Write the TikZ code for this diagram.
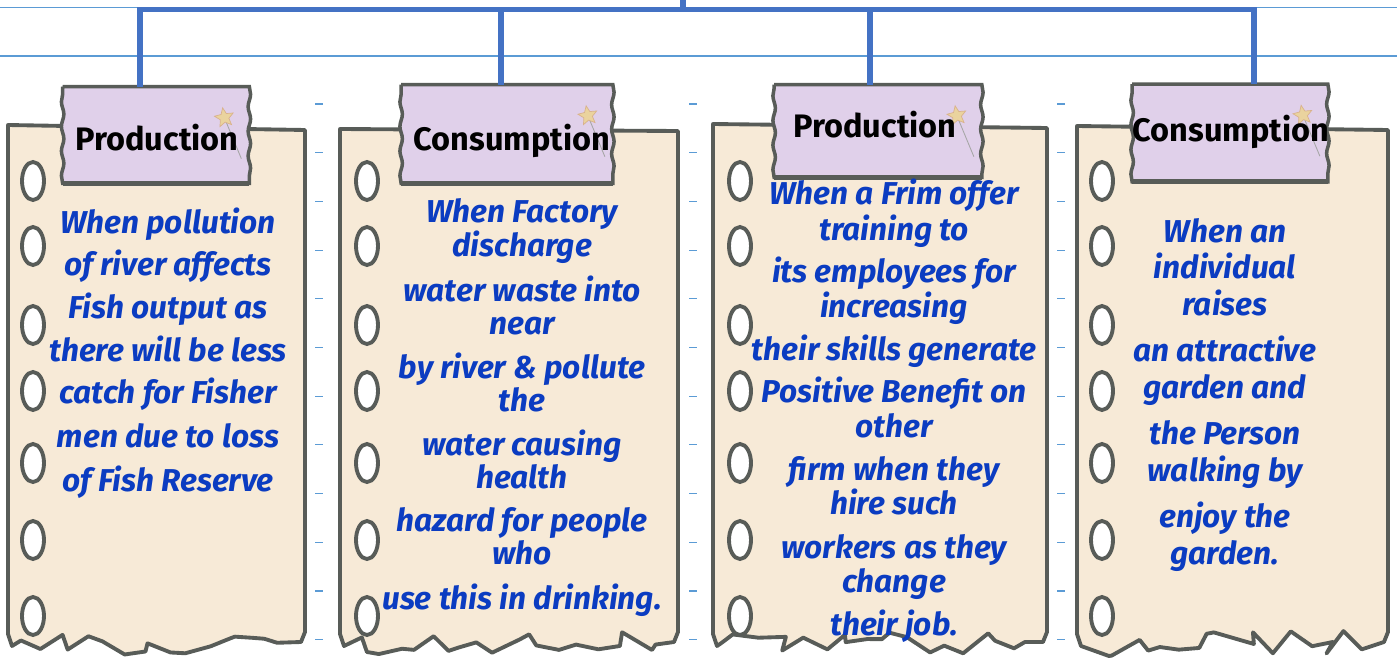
\documentclass[tikz,border=0pt]{standalone}
\usepackage{fontspec}
\setmainfont{Fira Sans}
\usetikzlibrary{shapes.geometric,decorations.pathmorphing,calc,positioning}
\definecolor{npBus}{HTML}{4472C4}
\definecolor{npRule}{HTML}{5B9BD5}
\definecolor{npInk}{HTML}{0B3CC1}
\definecolor{npEdge}{HTML}{585C58}
\definecolor{npPaper}{HTML}{F7EAD7}
\definecolor{npTab}{HTML}{E0D0EA}
\definecolor{npStar}{HTML}{EAD39E}
\tikzset{
  paper/.style={draw=npEdge, line width=2.2pt, fill=npPaper, line join=round},
  tabbox/.style={fill=npTab, inner sep=0pt},
  tabedge/.style={draw=npEdge, line width=2pt, decoration={snake, amplitude=0.7pt, segment length=14pt}},
  hole/.style={ellipse, draw=npEdge, line width=2.2pt, fill=white, inner sep=0pt, minimum width=0.44cm, minimum height=0.76cm},
  ttl/.style={anchor=base, font=\fontsize{18.5}{22}\selectfont\bfseries, text=black},
  txt/.style={anchor=base, font=\fontsize{18}{22}\selectfont\bfseries\itshape, text=npInk},
  bus/.style={draw=npBus, line width=2.9pt},
  rulel/.style={draw=npRule, line width=0.6pt},
  wand/.style={draw=gray!70, line width=0.5pt},
  spark/.style={star, star points=5, star point ratio=2.2, fill=npStar, draw=brown!60, line width=0.4pt, minimum size=0.4cm, inner sep=0pt},
}

\begin{document}
\begin{tikzpicture}[x=0.02cm, y=-0.02cm]
    \useasboundingbox (0,0) rectangle (1397,666);
    % page rules and margin ticks
    \draw[rulel] (0,7.3) -- (1397,7.3);
    \draw[rulel] (0,56) -- (1397,56);
    \foreach \tx in {315,689,1057}
        \foreach \k in {0,...,11}
            \draw[rulel] (\tx,104+48.7*\k) -- ++(8,0);

    % paper sheets with torn bottom edge and punched holes
    \pgfmathsetseed{11}
    \foreach \l/\r/\tl/\tr/\hx in {8/305/125/130/33, 340/678/129/131/367, 713/1047/124/128/740, 1077/1388/126/130/1102}{
        \draw[paper] (\l,\tl) -- (\r,\tr) -- (\r,632) -- (\r-4,642) decorate[decoration={random steps, segment length=9pt, amplitude=7pt}]{-- (\l+4,646)} -- (\l,634) -- cycle;
        \foreach \hy in {181,246,325,391,463,540,616}
            \node[hole] (hole-\hx-\hy) at (\hx,\hy) {};
    }

    % tabs with wavy sides
    \foreach \i/\cx/\cy/\w/\h in {1/156/135/186/96, 2/507/134/211/98, 3/878/131/207/92, 4/1230/133/195/97}{
        \node[tabbox, minimum width=\w*0.02cm, minimum height=\h*0.02cm] (tab\i) at (\cx,\cy) {};
        \draw[tabedge] (tab\i.north west) -- (tab\i.north east) decorate{-- (tab\i.south east)} -- (tab\i.south west) decorate{-- (tab\i.north west)};
        \draw[npEdge, line width=3pt] (tab\i.south west) -- (tab\i.south east);
        \coordinate (tip\i) at ($(tab\i.north east)+(-25,31)$);
        \draw[wand] (tip\i) -- ++(17,41);
        \node[spark, rotate=10] (star\i) at (tip\i) {};
    }

    % tab titles
    \foreach \i/\tx/\ty/\ttxt in {1/157/150/Production, 2/512/150/Consumption, 3/875/137/Production, 4/1231/141/Consumption}
        \node[ttl] (ttl\i) at (\tx,\ty) {\ttxt};

    % tree connectors
    \coordinate (root) at (683,0);
    \coordinate (fork) at (683,9.8);
    \draw[bus] (root) -- (fork);
    \foreach \i/\dx in {1/-16, 2/-6, 3/-8, 4/24}
        \draw[bus] (fork) -| ($(tab\i.north)+(\dx,0)$);

    % note texts
    \foreach \yy/\t [count=\n] in {233/When pollution, 275/of river affects, 318/Fish output as, 361/there will be less, 403/catch for Fisher, 447/men due to loss, 491/of Fish Reserve}
        \node[txt] (pa\n) at (168,\yy) {\t};
    \foreach \yy/\t [count=\n] in {222/When Factory, 256/discharge, 301/water waste into, 334/near, 378/by river \& pollute, 411/the, 455/water causing, 488/health, 531/hazard for people, 564/who, 609/use this in drinking.}
        \node[txt] (pb\n) at (522,\yy) {\t};
    \foreach \yy/\t [count=\n] in {204/When a Frim offer, 240/training to, 282/its employees for, 317/increasing, 360/their skills generate, 402/Positive Benefit on, 437/other, 480/firm when they, 514/hire such, 558/workers as they, 592/change, 635/their job.}
        \node[txt] (pc\n) at (894,\yy) {\t};
    \foreach \yy/\t [count=\n] in {242/When an, 278/individual, 315/raises, 361/an attractive, 398/garden and, 444/the Person, 481/walking by, 527/enjoy the, 564/garden.}
        \node[txt] (pd\n) at (1225,\yy) {\t};
\end{tikzpicture}
\end{document}
